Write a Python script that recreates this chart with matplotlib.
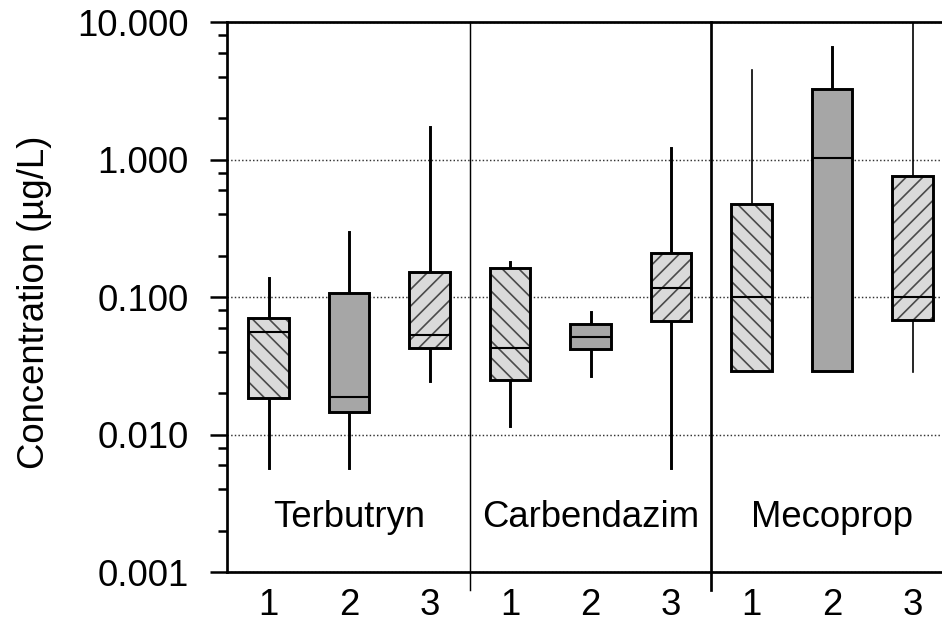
import numpy as np
import matplotlib
matplotlib.use("Agg")
import matplotlib.pyplot as plt
from matplotlib.patches import PathPatch
from matplotlib.ticker import FixedLocator, FuncFormatter

# Donnees (ug/L), 3 substances x 3 sites
substances = ['Terbutryn', 'Carbendazim', 'Mecoprop']
sites = ['1', '2', '3']
whis_lo = [0.0057, 0.0057, 0.0245, 0.0115, 0.0266, 0.0057, 0.029, 0.029, 0.0285]
q1 = [0.0184, 0.0146, 0.0426, 0.0249, 0.0419, 0.0669, 0.029, 0.029, 0.068]
med = [0.0556, 0.0188, 0.053, 0.0426, 0.0512, 0.116, 0.100, 1.025, 0.100]
q3 = [0.0704, 0.107, 0.152, 0.163, 0.0637, 0.209, 0.475, 3.26, 0.759]
whis_hi = [0.137, 0.297, 1.72, 0.180, 0.0778, 1.21, 4.48, 6.58, 10.0]

#---------------------------
plt.rcParams['font.family'] = ['Liberation Sans', 'DejaVu Sans']
plt.rcParams['hatch.linewidth'] = 0.8
fs = 17.5

fig = plt.figure(figsize=(942/150, 623/150), dpi=150)
ax = fig.add_axes([227/942, 1 - 572/623, 715/942, 550/623])

pos = np.arange(1, 10)
stats = []
for i in range(9):
    stats.append(dict(med=med[i], q1=q1[i], q3=q3[i],
                      whislo=whis_lo[i], whishi=whis_hi[i], fliers=[]))

bp = ax.bxp(stats, positions=pos, widths=0.5, patch_artist=True,
            showcaps=False, showfliers=False)

fills = ['#dadada', '#a6a6a6', '#dadada']
hatches = ['\\\\\\', '', '///']
whisk_w = [1.4, 1.4, 1.4, 1.4, 1.4, 1.4, 0.8, 1.4, 0.8]

for i, b in enumerate(bp['boxes']):
    b.set_facecolor(fills[i % 3])
    b.set_edgecolor('#4a4a4a')
    b.set_hatch(hatches[i % 3])
    b.set_linewidth(0)
    b.set_zorder(3)
    ax.add_patch(PathPatch(b.get_path(), fill=False, edgecolor='black',
                           lw=1.4, zorder=3.2, transform=b.get_transform()))
for i, m in enumerate(bp['medians']):
    m.set_color('black')
    m.set_linewidth(1.0)
    m.set_zorder(3.3)
for j, w in enumerate(bp['whiskers']):
    w.set_color('black')
    w.set_linewidth(whisk_w[j // 2])
    w.set_zorder(2.5)

ax.set_yscale('log')
ax.set_ylim(0.001, 10)
ax.set_xlim(0.484, 9.366)

ax.yaxis.set_major_locator(FixedLocator([0.001, 0.01, 0.1, 1, 10]))
minors = [k * 10.0**e for e in range(-3, 1) for k in (2, 4, 6, 8)]
ax.yaxis.set_minor_locator(FixedLocator(minors))
ax.yaxis.set_major_formatter(FuncFormatter(lambda v, p: '%.3f' % v))
ax.yaxis.set_minor_formatter(FuncFormatter(lambda v, p: ''))
ax.tick_params(axis='y', which='major', direction='out', length=8, width=1.2,
               labelsize=fs, pad=10.5)
ax.tick_params(axis='y', which='minor', direction='out', length=4.5, width=1.2)

ax.set_xticks(pos)
ax.set_xticklabels(sites * 3)
ax.tick_params(axis='x', length=0, labelsize=fs, pad=7.5)

ax.yaxis.grid(True, which='major', linestyle=(0, (1, 1.5)), color='#333333',
              linewidth=0.7)
ax.set_axisbelow(True)

ax.spines['right'].set_visible(False)
for s in ['top', 'left', 'bottom']:
    ax.spines[s].set_linewidth(1.3)

# separateurs entre substances
trans = ax.get_xaxis_transform()
ax.plot([3.5, 3.5], [-0.033, 1], color='black', lw=0.7, transform=trans,
        clip_on=False, zorder=4)
ax.plot([6.5, 6.5], [-0.033, 1], color='black', lw=1.3, transform=trans,
        clip_on=False, zorder=4)

for k, name in enumerate(substances):
    ax.text(2 + 3*k, 0.082, name, transform=trans, ha='center',
            va='baseline', fontsize=fs)

ax.set_ylabel('Concentration (µg/L)', fontsize=fs)
ax.yaxis.set_label_coords(-0.245, 0.49)

fig.savefig('out.png', dpi=150)
